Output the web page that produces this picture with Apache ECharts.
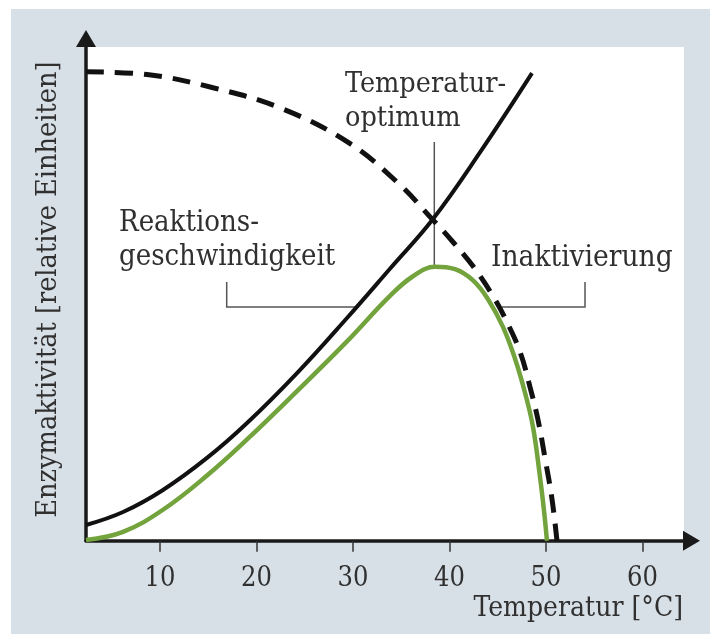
<!DOCTYPE html>
<html>
<head>
<meta charset="utf-8">
<script src="https://cdn.jsdelivr.net/npm/echarts@6/dist/echarts.min.js"></script>
<style>
    html, body { margin: 0; padding: 0; background: #fff; }
    #chart { width: 710px; height: 634px; }
</style>
</head>
<body>
<div id="chart"></div>
<script>
// Temperatur [°C] / Enzymaktivität
var tickValues = [10, 20, 30, 40, 50, 60];

// Reaktionsgeschwindigkeit (schwarz)
var rateTemp  = [2.33, 6.17, 10.31, 14.87, 19.02, 24.2, 29.38, 33.83, 38.29, 43.16, 48.55];
var rateValue = [3.35, 6.12, 10.82, 17.65, 25.1, 35.75, 47.5, 58.0, 68.6, 82.8, 99.7];

// Inaktivierung (gestrichelt)
var inactTemp  = [2.33, 8.65, 15.5, 22.44, 29.38, 34.56, 38.29, 40.36, 42.49, 44.56, 46.01, 47.36, 48.34, 49.17, 49.9, 50.62, 51.14];
var inactValue = [100, 99.4, 96.6, 92.3, 85.1, 76.5, 68.4, 63.7, 58.4, 52.0, 46.4, 40.0, 32.8, 25.8, 17.6, 8.9, 0];

// Enzymaktivität (grün)
var actTemp  = [2.33, 6.17, 10.31, 14.87, 19.02, 24.2, 29.38, 33.83, 36.22, 38.5, 40.57, 42.44, 43.99, 45.54, 46.79, 47.82, 48.65, 49.38, 49.79, 50.1];
var actValue = [0.15, 1.9, 6.6, 13.9, 21.6, 31.9, 42.5, 52.2, 56.4, 58.4, 57.9, 55.5, 51.5, 45.6, 38.8, 31.6, 24.3, 13.6, 6.5, 0];

function pairs(xs, ys){
    var out = [];
    for(var i = 0; i < xs.length; i++){
        out.push([xs[i], ys[i]]);
    }
    return out;
}

var font = '"DejaVu Serif Condensed", "DejaVu Serif", serif';
var textColor = '#303030';
var leader = { stroke: '#555', lineWidth: 1.5, fill: null };

var myChart = echarts.init(document.getElementById('chart'));
var option = {
    animation: false,
    backgroundColor: '#fff',
    grid: {
        left: 86,
        right: 18.5,
        top: 38.5,
        bottom: 93.3
    },
    xAxis: {
        type: 'value',
        min: 2.33,
        max: 65.08,
        splitLine: { show: false },
        axisLine: {
            lineStyle: { color: '#1a1a1a', width: 3.5 },
            symbol: ['none', 'triangle'],
            symbolSize: [20, 17]
        },
        axisTick: {
            show: true,
            length: 11,
            customValues: tickValues,
            lineStyle: { color: '#333', width: 1.5 }
        },
        axisLabel: {
            customValues: tickValues,
            margin: 25,
            color: textColor,
            fontFamily: font,
            fontSize: 27
        }
    },
    yAxis: {
        type: 'value',
        min: 0,
        max: 107.1,
        name: 'Enzymaktivität [relative Einheiten]',
        nameLocation: 'middle',
        nameGap: 23,
        nameTextStyle: {
            color: textColor,
            fontFamily: font,
            fontSize: 28.5
        },
        splitLine: { show: false },
        axisTick: { show: false },
        axisLabel: { show: false },
        axisLine: {
            lineStyle: { color: '#1a1a1a', width: 3.5 },
            symbol: ['none', 'triangle'],
            symbolSize: [20, 17]
        }
    },
    graphic: [
        // Hintergrund
        { type: 'rect', z: -20, silent: true, shape: { x: 11, y: 9, width: 699, height: 625 }, style: { fill: '#d8e0e7' } },
        { type: 'rect', z: -19, silent: true, shape: { x: 86, y: 47, width: 598, height: 494 }, style: { fill: '#fff' } },
        // Beschriftungen
        { type: 'text', z: 10, x: 683, y: 609, style: { text: 'Temperatur [°C]', font: '28px ' + font, fill: textColor, align: 'right', verticalAlign: 'middle' } },
        { type: 'text', z: 10, x: 345, y: 102, style: { text: 'Temperatur-\noptimum', font: '28.5px ' + font, fill: textColor, lineHeight: 34, verticalAlign: 'middle' } },
        { type: 'text', z: 10, x: 119, y: 240.5, style: { text: 'Reaktions-\ngeschwindigkeit', font: '29px ' + font, fill: textColor, lineHeight: 34.6, verticalAlign: 'middle' } },
        { type: 'text', z: 10, x: 491, y: 258.8, style: { text: 'Inaktivierung', font: '29.5px ' + font, fill: textColor, verticalAlign: 'middle' } },
        // Hinweislinien
        { type: 'polyline', z: 1, shape: { points: [[434.3, 142], [434.3, 267]] }, style: leader },
        { type: 'polyline', z: 1, shape: { points: [[226.7, 282], [226.7, 307], [357, 307]] }, style: leader },
        { type: 'polyline', z: 1, shape: { points: [[585, 282], [585, 307], [502, 307]] }, style: leader }
    ],
    series: [
        {
            name: 'Inaktivierung',
            type: 'line',
            smooth: 0.4,
            showSymbol: false,
            lineStyle: { color: '#111', width: 5, type: [18, 11] },
            data: pairs(inactTemp, inactValue)
        },
        {
            name: 'Reaktionsgeschwindigkeit',
            type: 'line',
            smooth: 0.4,
            showSymbol: false,
            lineStyle: { color: '#111', width: 4 },
            data: pairs(rateTemp, rateValue)
        },
        {
            name: 'Enzymaktivität',
            type: 'line',
            smooth: 0.4,
            showSymbol: false,
            lineStyle: { color: '#72a33c', width: 4.5 },
            data: pairs(actTemp, actValue)
        }
    ]
};
myChart.setOption(option);
</script>
</body>
</html>
